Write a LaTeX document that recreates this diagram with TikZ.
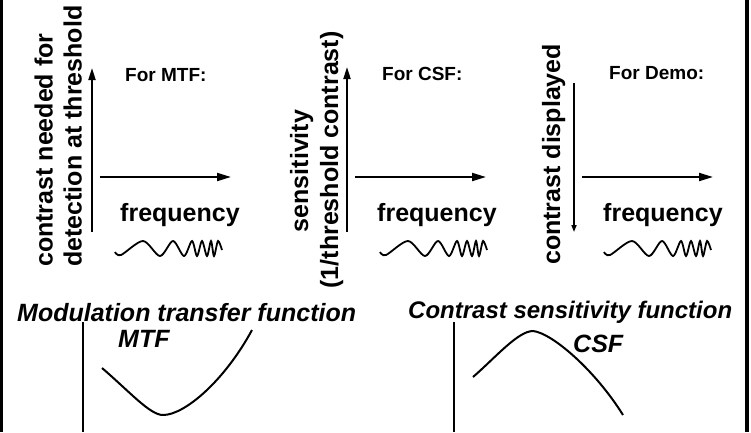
\documentclass[tikz,border=0pt]{standalone}
\usepackage{fontspec}
\setmainfont{Liberation Sans}
\usetikzlibrary{arrows.meta}

\tikzset{
  lbl/.style={font=\bfseries\fontsize{25}{29}\selectfont, inner sep=0pt},
  head/.style={font=\bfseries\fontsize{19}{23}\selectfont, inner sep=0pt},
  ital/.style={font=\bfseries\itshape\fontsize{25}{29}\selectfont, inner sep=0pt},
  xaxis/.style={line width=2pt, -{Triangle[length=14pt,width=8pt]}},
  yaxis/.style={line width=2pt, -{Triangle[length=12pt,width=7pt]}},
  daxis/.style={line width=1.5pt, -{Triangle[length=7pt,width=5pt]}},
  curve/.style={line width=2pt},
  chirp/.pic={
    \draw[line width=1.8pt] plot[smooth] coordinates {(0,4) (6,7) (28,-7) (45,8) (58,-7)
      (69,8) (77,-7) (82,8) (87,-7) (92,8) (96,-7) (99,8) (103,-7) (107,2)};
  }
}

\begin{document}
\begin{tikzpicture}[x=1pt,y=-1pt]
  \useasboundingbox (0,0) rectangle (751,432);
  % frame sides
  \draw[line width=2.7pt] (1.3,0) -- (1.3,432);
  \draw[line width=3.5pt] (747,0) -- (747,432);

  % three panels: x axis, label, wave
  \foreach \p/\ax/\fx/\wx in {a/100/120/115, b/355/377/380, c/582/603/604} {
    \coordinate (x0\p) at (\ax,177);
    \coordinate (x1\p) at (\ax+131,177);
    \draw[xaxis] (x0\p) -- (x1\p);
    \node[lbl, anchor=base west] (freq\p) at (\fx,221) {frequency};
    \pic at (\wx,248) {chirp};
  }

  % MTF panel
  \node[lbl, rotate=90, align=left, anchor=south west] (mtfy) at (82,267)
    {contrast needed for\\detection at threshold};
  \node[head, anchor=base west] (formtf) at (125,81) {For MTF:};
  \coordinate (y0a) at (92,232);
  \coordinate (y1a) at (92,68);
  \draw[yaxis] (y0a) -- (y1a);

  % CSF panel
  \node[lbl, rotate=90, anchor=base] (sens) at (308,171) {sensitivity};
  \node[lbl, rotate=90, anchor=base] (thr) at (338,160) {(1/threshold contrast)};
  \node[head, anchor=base west] (forcsf) at (382,80) {For CSF:};
  \coordinate (y0b) at (347,232);
  \coordinate (y1b) at (347,67);
  \draw[yaxis] (y0b) -- (y1b);

  % demo panel
  \node[lbl, rotate=90, anchor=base west] (disp) at (560,265) {contrast displayed};
  \node[head, anchor=base west] (fordemo) at (609,79) {For Demo:};
  \coordinate (y0c) at (574,83);
  \coordinate (y1c) at (574,232);
  \draw[daxis] (y0c) -- (y1c);

  % bottom sketches
  \node[ital, anchor=base west] (mtf) at (17,321) {Modulation transfer function};
  \node[ital, anchor=base west] (mtfab) at (118,347) {MTF};
  \node[ital, font=\bfseries\itshape\fontsize{24}{28}\selectfont, anchor=base west]
    (csf) at (408,318) {Contrast sensitivity function};
  \node[ital, anchor=base west] (csfab) at (573,352) {CSF};
  \coordinate (m0) at (83,322);
  \coordinate (m1) at (83,432);
  \draw[line width=1.5pt] (m0) -- (m1);
  \coordinate (c0) at (454,322);
  \coordinate (c1) at (454,432);
  \draw[line width=1.5pt] (c0) -- (c1);
  \draw[curve] (102,368) .. controls (130,392) and (150,415) .. (163,415)
    .. controls (185,415) and (225,380) .. (252,330);
  \draw[curve] (473,377) .. controls (495,358) and (518,331) .. (533,331)
    .. controls (552,333) and (595,370) .. (623,415);
\end{tikzpicture}
\end{document}
